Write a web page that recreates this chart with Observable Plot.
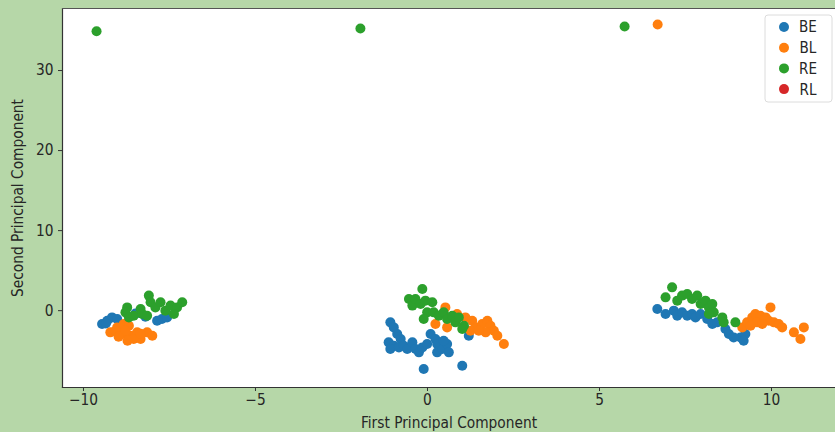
<!DOCTYPE html>
<html>
<head>
<meta charset="utf-8">
<script src="https://cdn.jsdelivr.net/npm/d3@7"></script>
<script src="https://cdn.jsdelivr.net/npm/@observablehq/plot@0.6"></script>
<style>
  html, body { margin: 0; padding: 0; background: #b6d7a8; }
  #chart svg { display: block; }
</style>
</head>
<body>
<div id="chart"></div>
<script>
const classes = ["BE", "BL", "RE", "RL"];
const palette = ["#1f77b4", "#ff7f0e", "#2ca02c", "#d62728"];
const xTicks = [-10, -5, 0, 5, 10];
const yTicks = [0, 10, 20, 30];

const BE = [
  [-9.46,-1.66],[-9.31,-1.25],[-9.17,-0.84],[-9.02,-1.04],[-7.86,-1.25],[-7.72,-1.04],[-7.57,-0.84],[-8.49,-0.37],[-8.2,-0.75],[-9.35,-1.6],
  [-1.08,-1.46],[-0.98,-2.09],[-0.88,-2.91],[-0.78,-3.54],[-1.13,-3.96],[-0.98,-4.38],[-1.08,-4.79],[-0.83,-4.59],[-0.69,-4.38],[-0.59,-4.79],
  [-0.44,-3.96],[-0.35,-4.79],[-0.25,-5.21],[-0.15,-4.59],[-0.01,-4.16],[0.09,-2.91],[0.23,-3.54],[0.28,-4.16],[0.28,-5.21],[0.43,-4.79],
  [0.57,-4.16],[0.62,-5.21],[0.47,-3.75],[-0.11,-7.29],[1.01,-6.88],[1.2,-3.13],
  [6.68,0.21],[6.92,-0.41],[7.16,0],[7.26,-0.63],[7.4,-0.21],[7.55,-0.63],[7.69,-0.41],[7.79,-0.84],[7.94,-0.41],[8.13,-1.04],
  [8.28,-1.66],[8.42,-1.46],[8.66,-2.29],[8.76,-2.91],[9.1,-3.34],[9.24,-2.91],[9.19,-3.75],[8.9,-3.34]
];
const BL = [
  [6.69,35.75],
  [-9.22,-2.71],[-9.02,-2.09],[-8.83,-1.66],[-8.68,-1.88],[-8.88,-2.91],[-8.63,-3.13],[-8.44,-2.71],[-8.54,-3.54],[-8.34,-3.54],[-8.15,-2.71],
  [-8.0,-3.13],[-9.07,-2.5],[-8.78,-2.5],[-8.98,-3.25],[-8.72,-3.75],[-8.34,-2.88],
  [0.52,0.41],[0.23,-1.66],[0.57,-2.09],[0.86,-0.41],[1.1,-0.84],[1.3,-1.25],[1.4,-2.09],[1.25,-2.5],[1.59,-1.66],[1.74,-1.25],
  [1.83,-1.88],[1.93,-2.5],[2.03,-3.13],[1.69,-2.71],[2.22,-4.16],[1.49,-2.5],
  [9.15,-2.09],[9.29,-1.46],[9.44,-0.84],[9.53,-0.41],[9.68,-0.63],[9.83,-0.84],[9.97,0.41],[9.92,-1.25],[10.07,-1.46],[10.21,-1.66],
  [10.31,-2.09],[9.58,-1.46],[9.73,-1.66],[9.39,-1.88],[10.65,-2.71],[10.94,-2.09],[10.84,-3.54]
];
const RE = [
  [-9.62,34.9],[-1.95,35.25],[5.73,35.5],
  [-8.73,0.41],[-8.78,-0.21],[-8.68,-0.84],[-8.54,-0.63],[-8.34,0.21],[-8.29,-0.41],[-8.15,-0.63],[-8.1,1.88],[-8.05,1.04],[-7.91,0.41],
  [-7.76,1.04],[-7.62,0],[-7.47,0.63],[-7.28,0.41],[-7.13,1.04],[-7.37,-0.41],
  [-0.15,2.71],[-0.54,1.46],[-0.44,0.63],[-0.35,1.46],[-0.2,0.84],[-0.06,1.25],[0.14,1.04],[-0.01,-0.21],[-0.11,-1.04],[0.18,-0.21],
  [0.33,-0.63],[0.47,-0.21],[0.57,-1.04],[0.72,-0.63],[0.81,-1.46],[0.91,-0.84],[1.06,-1.88],[1.01,-2.29],
  [7.11,2.91],[6.92,1.66],[7.26,1.25],[7.4,1.88],[7.55,2.09],[7.69,1.46],[7.84,1.88],[7.94,0.84],[8.08,1.25],[8.18,0.41],
  [8.28,0.84],[8.32,-0.21],[8.18,-0.41],[8.57,-0.84],[8.61,-1.46],[8.95,-1.46]
];
const RL = [];

const series = {BE, BL, RE, RL};
const points = classes.flatMap(c => series[c].map(([x, y]) => ({x, y, cls: c})));

const font = '"DejaVu Sans Condensed", "DejaVu Sans", sans-serif';

const plot = Plot.plot({
  width: 835,
  height: 432,
  marginLeft: 62,
  marginRight: 0,
  marginTop: 8,
  marginBottom: 45,
  style: {background: "#b6d7a8", fontFamily: font, fontSize: "15.3px", color: "#262626"},
  x: {domain: [-10.61, 11.86]},
  y: {domain: [-9.6, 37.75]},
  color: {domain: classes, range: palette},
  marks: [
    Plot.frame({fill: "white", stroke: null}),
    Plot.axisX({ticks: xTicks, tickSize: 4, tickPadding: 3, stroke: "#333",
      label: "First Principal Component", labelAnchor: "center", labelArrow: "none", labelOffset: 40}),
    Plot.axisY({ticks: yTicks, tickSize: 4, tickPadding: 5, stroke: "#333",
      label: "Second Principal Component", labelAnchor: "center", labelArrow: "none", labelOffset: 50}),
    Plot.dot(points, {x: "x", y: "y", fill: "cls", r: 5, stroke: null}),
    Plot.frame({anchor: "left", stroke: "#333", strokeWidth: 1.2}),
    Plot.frame({anchor: "bottom", stroke: "#333", strokeWidth: 1.2}),
    Plot.frame({anchor: "top", stroke: "#555", strokeWidth: 1})
  ]
});

// legend inside the axes, upper right
const color = plot.scale("color");
const svg = d3.select(plot);
const lg = svg.append("g").attr("font-family", font).attr("font-size", 15).attr("fill", "#262626");
lg.append("rect").attr("x", 765).attr("y", 15).attr("width", 67).attr("height", 87)
  .attr("rx", 3).attr("fill", "white").attr("fill-opacity", 0.85).attr("stroke", "#dcdcdc");
classes.forEach((c, i) => {
  const cy = 27 + i * 20.7;
  lg.append("circle").attr("cx", 784).attr("cy", cy).attr("r", 5).attr("fill", color.apply(c));
  lg.append("text").attr("x", 808).attr("y", cy).attr("dy", "0.36em").text(c);
});

document.getElementById("chart").appendChild(plot);
</script>
</body>
</html>
